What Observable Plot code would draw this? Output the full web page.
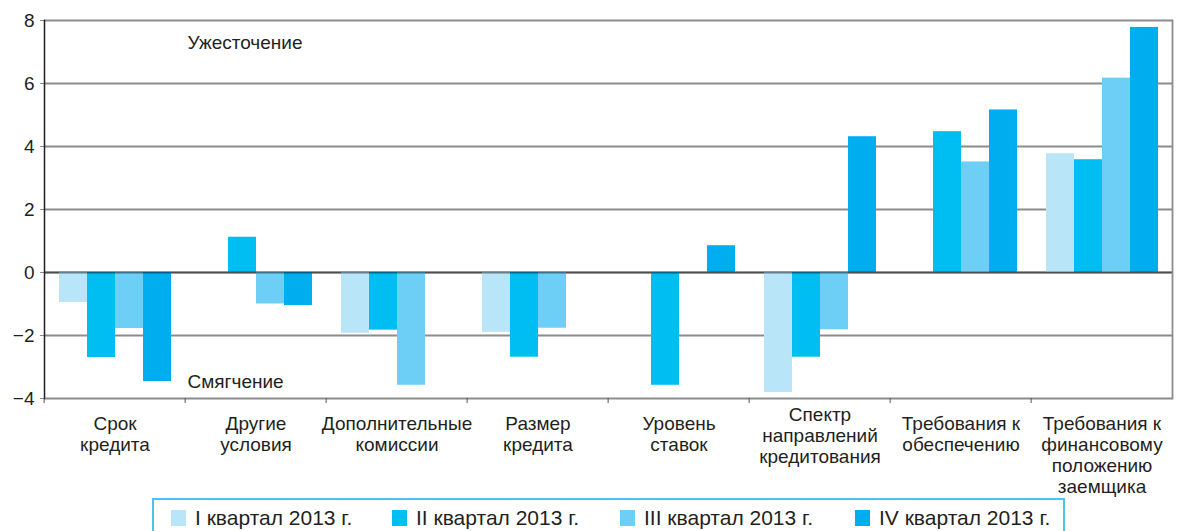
<!DOCTYPE html>
<html>
<head>
<meta charset="utf-8">
<script src="https://cdn.jsdelivr.net/npm/d3@7"></script>
<script src="https://cdn.jsdelivr.net/npm/@observablehq/plot@0.6"></script>
<style>
  html, body { margin: 0; padding: 0; background: #fff; }
  #chart { width: 1177px; }
  #chart svg { display: block; }
  .legend {
    position: relative; margin-left: 152px; margin-top: 0; width: 913px; height: 40px;
    border: 2px solid #4cc4ef; box-sizing: border-box;
    font-family: "Liberation Sans", Arial, sans-serif; font-size: 21px; color: #231f20;
  }
  .legend .item { position: absolute; top: 6px; height: 24px; display: flex; align-items: center; white-space: nowrap; }
  .legend .sw { width: 15px; height: 16px; margin-right: 9px; display: inline-block; }
</style>
</head>
<body>
<div id="chart"></div>
<script>
const categories = [
  "Срок\nкредита",
  "Другие\nусловия",
  "Дополнительные\nкомиссии",
  "Размер\nкредита",
  "Уровень\nставок",
  "Спектр\nнаправлений\nкредитования",
  "Требования к\nобеспечению",
  "Требования к\nфинансовому\nположению\nзаемщика"
];
const series = ["I квартал 2013 г.", "II квартал 2013 г.", "III квартал 2013 г.", "IV квартал 2013 г."];
const q1 = [-0.95, null, -1.93, -1.90, null, -3.81, null, 3.77];
const q2 = [-2.70, 1.12, -1.83, -2.69, -3.58, -2.69, 4.47, 3.58];
const q3 = [-1.78, -1.00, -3.58, -1.77, null, -1.82, 3.51, 6.17];
const q4 = [-3.46, -1.05, null, null, 0.85, 4.31, 5.16, 7.78];
const colors = ["#b9e5f9", "#00bdf2", "#6dcff6", "#00adee"];
const yTicks = [-4, -2, 0, 2, 4, 6, 8];
const annotations = ["Ужесточение", "Смягчение"];

const values = [q1, q2, q3, q4];
const data = [];
categories.forEach((c, i) => series.forEach((s, j) => {
  if (values[j][i] != null) data.push({category: c, series: s, value: values[j][i]});
}));

const W = 1177, ML = 41, MR = 2;
const half = (W - ML - MR) / categories.length / 2;
const spectr = categories[5];
const otherCats = categories.filter(c => c !== spectr);

const font = "'Liberation Sans', Arial, sans-serif";
const chart = Plot.plot({
  width: W,
  height: 498,
  marginTop: 20,
  marginLeft: ML,
  marginRight: MR,
  marginBottom: 100,
  style: {fontFamily: font, color: "#231f20", background: "#fff", overflow: "visible"},
  fx: {domain: categories, padding: 0, label: null, axis: null},
  x: {domain: series, paddingInner: 0, paddingOuter: 0.44, axis: null},
  y: {domain: [-4, 8], label: null, axis: null},
  color: {domain: series, range: colors},
  marks: [
    Plot.ruleY(yTicks, {stroke: "#8c8c8c", strokeWidth: 1.8}),
    Plot.barY(data, {fx: "category", x: "series", y: "value", fill: "series", inset: 0}),
    Plot.ruleY([0], {stroke: "#000", strokeOpacity: 0.45, strokeWidth: 1.8}),
    Plot.axisY({ticks: yTicks, tickSize: 4, tickPadding: 6, fontSize: 19, stroke: "#8c8c8c", tickFormat: d => d < 0 ? "\u2212" + Math.abs(d) : d}),
    Plot.frame({anchor: "left", facet: "super", stroke: "#231f20", strokeWidth: 1.5}),
    Plot.frame({anchor: "right", facet: "super", stroke: "#8c8c8c", strokeWidth: 1.8}),
    Plot.axisFx({anchor: "bottom", tickSize: 5, tickFormat: () => "", dx: -half, stroke: "#555"}),
    Plot.text(otherCats, {fx: d => d, text: d => d, frameAnchor: "bottom", lineAnchor: "top", dy: 17, fontSize: 19, lineHeight: 1.1, fill: "#231f20"}),
    Plot.text([spectr], {fx: d => d, text: d => d, frameAnchor: "bottom", lineAnchor: "top", dy: 8, fontSize: 19, lineHeight: 1.1, fill: "#231f20"}),
    Plot.text([annotations[0]], {text: d => d, frameAnchor: "top-left", textAnchor: "start", lineAnchor: "top", dx: 143, dy: 15, fontSize: 19, fill: "#231f20", facet: "super"}),
    Plot.text([annotations[1]], {text: d => d, frameAnchor: "bottom-left", textAnchor: "start", lineAnchor: "bottom", dx: 143, dy: -11, fontSize: 19, fill: "#231f20", facet: "super"})
  ]
});
const root = document.getElementById("chart");
root.appendChild(chart);

const legend = document.createElement("div");
legend.className = "legend";
const lefts = [17, 238, 466, 701];
series.forEach((s, i) => {
  const it = document.createElement("div");
  it.className = "item";
  it.style.left = lefts[i] + "px";
  const sw = document.createElement("span");
  sw.className = "sw";
  sw.style.background = colors[i];
  const t = document.createElement("span");
  t.textContent = s;
  it.appendChild(sw); it.appendChild(t);
  legend.appendChild(it);
});
root.appendChild(legend);
</script>
</body>
</html>
